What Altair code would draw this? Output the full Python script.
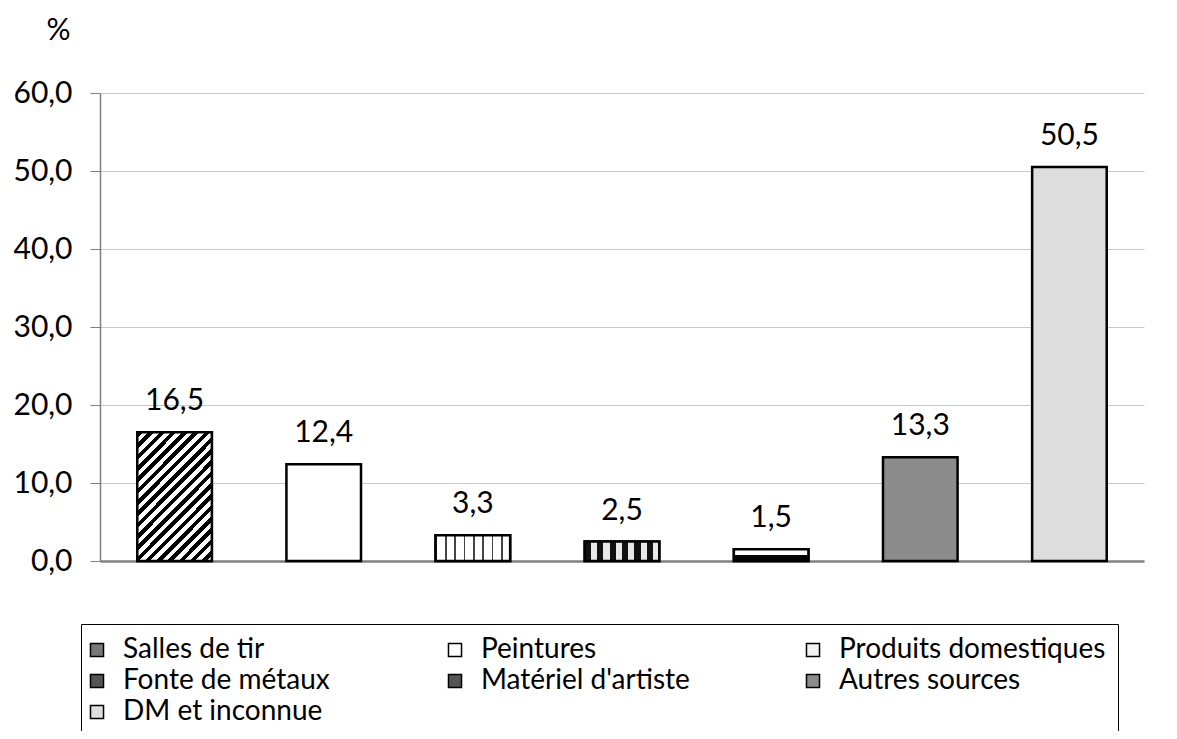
import altair as alt
import pandas as pd

categories = ["Salles de tir", "Peintures", "Produits domestiques", "Fonte de métaux",
              "Matériel d'artiste", "Autres sources", "DM et inconnue"]
values = [16.5, 12.4, 3.3, 2.5, 1.5, 13.3, 50.5]
y_ticks = [0, 10, 20, 30, 40, 50, 60]

colors = ["#777777", "#ffffff", "#f2f2f2", "#555555", "#555555", "#8c8c8c", "#dedede"]
FONT = "Lato"
FS = 30

df = pd.DataFrame({"cat": categories, "val": values})


def stripes(n, frac, c_on, c_off, x2, y2):
    stops = []
    for i in range(n):
        a = i / n
        b = (i + frac) / n
        c = (i + 1) / n
        stops += [
            {"offset": a, "color": c_on},
            {"offset": b, "color": c_on},
            {"offset": b, "color": c_off},
            {"offset": c, "color": c_off},
        ]
    return {"gradient": "linear", "x1": 0, "y1": 0, "x2": x2, "y2": y2, "stops": stops}


patterns = {
    "Salles de tir": stripes(18, 0.5, "#000000", "#ffffff", 0.689, 1.181),
    "Produits domestiques": stripes(8, 0.2, "#444444", "#ffffff", 1, 0),
    "Fonte de métaux": stripes(6, 0.5, "#111111", "#e8e8e8", 1, 0),
    "Matériel d'artiste": {"gradient": "linear", "x1": 0, "y1": 0, "x2": 0, "y2": 1,
                           "stops": [{"offset": 0, "color": "#ffffff"},
                                     {"offset": 0.5, "color": "#ffffff"},
                                     {"offset": 0.5, "color": "#000000"},
                                     {"offset": 1, "color": "#000000"}]},
}

x_enc = alt.X("cat:N", sort=categories,
              scale=alt.Scale(paddingInner=0.5, paddingOuter=0.25),
              axis=alt.Axis(labels=False, ticks=False, title=None, grid=False,
                            domainColor="#808080", domainWidth=2.5))
y_enc = alt.Y("val:Q", scale=alt.Scale(domain=[0, 60]),
              axis=alt.Axis(values=y_ticks,
                            labelExpr="replace(format(datum.value, '.1f'), '.', ',')",
                            title="%", titleAngle=0, titleX=-42, titleY=-63,
                            titleAlign="center", titleBaseline="middle",
                            titleFontSize=FS, titleFont=FONT, titleFontWeight="normal",
                            titleColor="black",
                            labelFontSize=FS, labelFont=FONT, labelColor="black",
                            labelPadding=18, tickSize=10, tickColor="#808080",
                            domainColor="#808080", domainWidth=1.5,
                            gridColor="#c8c8c8", gridWidth=1))

base = alt.Chart(df)

bars = base.mark_bar(stroke="black", strokeWidth=2.5).encode(
    x=x_enc, y=y_enc,
    color=alt.Color("cat:N", sort=categories,
                    scale=alt.Scale(domain=categories, range=colors),
                    legend=alt.Legend(orient="none", legendX=-19, legendY=531,
                                      direction="horizontal",
                                      columns=3, title=None, strokeColor="black",
                                      fillColor="white", padding=12,
                                      labelFontSize=28, labelFont=FONT, labelColor="black",
                                      labelLimit=600, labelOffset=12,
                                      symbolType="square", symbolSize=170,
                                      symbolOffset=-10,
                                      symbolStrokeColor="black", symbolStrokeWidth=1.5,
                                      rowPadding=3, columnPadding=55, gridAlign="all")),
)

layers = [bars]
for cat, grad in patterns.items():
    layers.append(
        base.transform_filter(alt.datum.cat == cat)
        .mark_bar(stroke="black", strokeWidth=2.5, fill=grad)
        .encode(x=x_enc, y=y_enc)
    )

labels = base.transform_calculate(
    label="replace(format(datum.val, '.1f'), '.', ',')"
).mark_text(dy=-22, baseline="alphabetic", fontSize=FS, font=FONT, color="black").encode(
    x=x_enc, y=y_enc, text="label:N")
layers.append(labels)

chart = alt.layer(*layers).properties(
    width=1044, height=468,
    autosize=alt.AutoSizeParams(type="none"),
    padding={"left": 92, "top": 85, "right": 25, "bottom": 170},
    background="white",
).configure_view(stroke=None)

chart.save("out.html", embed_options={"renderer": "svg", "actions": False})
